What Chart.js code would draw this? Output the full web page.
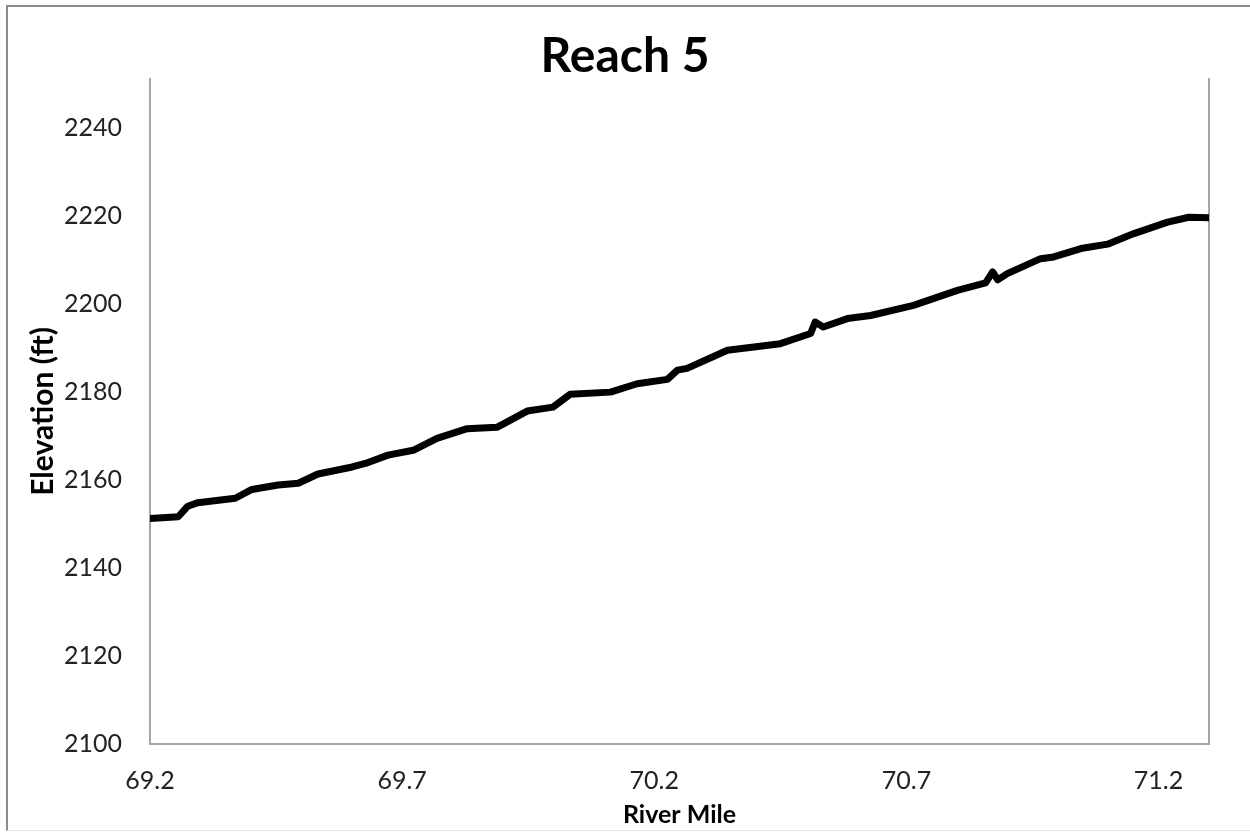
<!DOCTYPE html>
<html>
<head>
<meta charset="utf-8">
<title>Reach 5</title>
<script src="https://cdn.jsdelivr.net/npm/chart.js@4.4.1/dist/chart.umd.min.js"></script>
<style>
  html, body { margin: 0; padding: 0; background: #fff; }
  #wrap { position: absolute; left: 0; top: 0; width: 1250px; height: 833px; }
  #frame {
    position: absolute; left: 6px; top: 5px; width: 1250px; height: 826px;
    border-left: 2px solid #8c8c8c; border-top: 2px solid #8c8c8c;
    border-bottom: 1px solid #e4e4e4; box-sizing: border-box;
  }
</style>
</head>
<body>
<div id="wrap">
  <canvas id="chart" width="1250" height="833"></canvas>
  <div id="frame"></div>
</div>
<script>
const riverMile = [
  69.200, 69.256, 69.275, 69.295, 69.369, 69.402, 69.454, 69.494, 69.533, 69.601,
  69.627, 69.672, 69.722, 69.769, 69.829, 69.888, 69.948, 69.999, 70.033, 70.113,
  70.166, 70.226, 70.246, 70.265, 70.345, 70.450, 70.510, 70.519, 70.535, 70.583,
  70.629, 70.714, 70.801, 70.857, 70.871, 70.881, 70.900, 70.966, 70.992, 71.046,
  71.099, 71.151, 71.218, 71.260, 71.300
];
const elevation = [
  2151.2, 2151.6, 2154.0, 2154.8, 2155.8, 2157.8, 2158.8, 2159.2, 2161.3, 2162.9,
  2163.7, 2165.6, 2166.7, 2169.4, 2171.6, 2171.9, 2175.6, 2176.5, 2179.4, 2179.9,
  2181.8, 2182.8, 2184.9, 2185.3, 2189.4, 2190.9, 2193.2, 2195.8, 2194.7, 2196.6,
  2197.3, 2199.6, 2203.0, 2204.7, 2207.2, 2205.4, 2206.8, 2210.2, 2210.6, 2212.5,
  2213.5, 2215.9, 2218.5, 2219.6, 2219.5
];
const xTicks = [69.2, 69.7, 70.2, 70.7, 71.2];
const yTicks = [2100, 2120, 2140, 2160, 2180, 2200, 2220, 2240];

const FONT = "Lato, 'Open Sans', sans-serif";
const axisGray = "#a6a6a6";

new Chart(document.getElementById("chart"), {
  type: "scatter",
  data: {
    datasets: [
      {
        label: "Elevation",
        data: riverMile.map((m, i) => ({ x: m, y: elevation[i] })),
        showLine: true,
        borderColor: "#000",
        borderWidth: 7,
        pointRadius: 0,
        tension: 0,
        borderJoinStyle: "round",
        borderCapStyle: "round",
      },
    ],
  },
  options: {
    responsive: false,
    animation: false,
    layout: { padding: 0 },
    plugins: {
      legend: { display: false },
      tooltip: { enabled: false },
      title: {
        display: true,
        text: "Reach 5",
        color: "#000",
        font: { family: FONT, size: 48, weight: "bold", lineHeight: 1 },
        padding: { top: 33, bottom: -2 },
      },
    },
    scales: {
      x: {
        type: "linear",
        min: 69.2,
        max: 71.3,
        afterBuildTicks: (s) => { s.ticks = xTicks.map((v) => ({ value: v })); },
        afterFit: (s) => { s.height = 89; },
        grid: { display: false, drawTicks: false },
        border: { display: true, color: axisGray, width: 2 },
        ticks: {
          color: "#222",
          padding: 22,
          font: { family: FONT, size: 25 },
          callback: (v) => v.toFixed(1),
        },
        title: {
          display: true,
          text: "River Mile",
          color: "#000",
          font: { family: FONT, size: 25, weight: "bold" },
          padding: { top: 0, bottom: 3 },
        },
      },
      y: {
        min: 2100,
        max: 2251,
        afterBuildTicks: (s) => { s.ticks = yTicks.map((v) => ({ value: v })); },
        afterFit: (s) => { s.width = 150; },
        grid: { display: false, drawTicks: false },
        border: { display: true, color: axisGray, width: 2 },
        ticks: {
          color: "#222",
          padding: 28,
          font: { family: FONT, size: 25 },
          callback: (v) => String(v),
        },
        title: {
          display: true,
          text: "Elevation (ft)",
          color: "#000",
          font: { family: FONT, size: 30, weight: "bold" },
          padding: { top: 25, bottom: 0 },
        },
      },
      y2: {
        position: "right",
        min: 2100,
        max: 2251,
        afterFit: (s) => { s.width = 41; },
        grid: { display: false, drawTicks: false },
        border: { display: true, color: axisGray, width: 2 },
        ticks: { display: false },
      },
    },
  },
});
</script>
</body>
</html>
